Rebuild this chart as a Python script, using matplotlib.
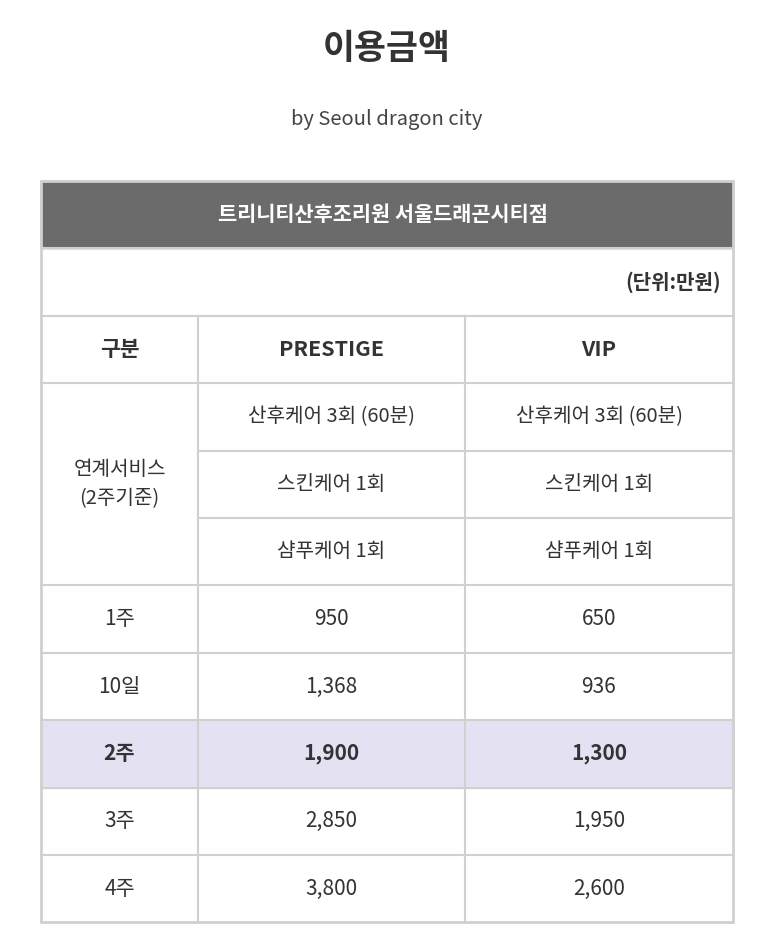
import matplotlib.pyplot as plt
from matplotlib import font_manager
from matplotlib.patches import Rectangle

# find a font with Korean glyphs
cjk = [f for f in font_manager.findSystemFonts() if 'CJK' in f or 'cjk' in f.lower()]
family = 'DejaVu Sans'
for f in sorted(cjk, key=lambda p: ('Regular' not in p, p)):
    try:
        font_manager.fontManager.addfont(f)
        family = font_manager.FontProperties(fname=f).get_name()
        break
    except Exception:
        pass
plt.rcParams['font.family'] = [family, 'Noto Sans CJK KR', 'Noto Sans CJK JP', 'DejaVu Sans']

title = "이용금액"
subtitle = "by Seoul dragon city"
header = "트리니티산후조리원 서울드래곤시티점"
unit = "(단위:만원)"
col_names = ["구분", "PRESTIGE", "VIP"]
service_label = "연계서비스\n(2주기준)"
services_prestige = ["산후케어 3회 (60분)", "스킨케어 1회", "샴푸케어 1회"]
services_vip = ["산후케어 3회 (60분)", "스킨케어 1회", "샴푸케어 1회"]
periods = ["1주", "10일", "2주", "3주", "4주"]
prestige = ["950", "1,368", "1,900", "2,850", "3,800"]
vip = ["650", "936", "1,300", "1,950", "2,600"]
highlight = "2주"

W, H = 773, 939
fig = plt.figure(figsize=(W / 100, H / 100), dpi=100)
ax = fig.add_axes([0, 0, 1, 1])
ax.set_xlim(0, W)
ax.set_ylim(H, 0)
ax.axis('off')

xs = [41, 198, 465, 733]
top = 181
rh = 67.4
line_c = '#d0d0d0'
txt_c = '#333333'

ax.text(W / 2, 48, title, ha='center', va='center', fontsize=25, fontweight='bold', color=txt_c)
ax.text(W / 2, 120, subtitle, ha='center', va='center', fontsize=14.5, color='#444444')

# header bar
ax.add_patch(Rectangle((xs[0], top), xs[3] - xs[0], rh, color='#6b6b6b'))
ax.text(W / 2 - 4, top + rh / 2, header, ha='center', va='center', fontsize=15, fontweight='bold', color='white')

# unit row
y = top + rh
ax.text(xs[3] - 12, y + rh / 2, unit, ha='right', va='center', fontsize=14.5, fontweight='bold', color=txt_c)

rows_y = [top + rh * (i + 2) for i in range(9)]

# highlighted row
hi = periods.index(highlight)
ax.add_patch(Rectangle((xs[0], rows_y[4 + hi]), xs[3] - xs[0], rh, color='#e4e1f3'))

def cy(i):
    return rows_y[i] + rh / 2

cx = [(xs[i] + xs[i + 1]) / 2 for i in range(3)]
for j, name in enumerate(col_names):
    ax.text(cx[j], cy(0), name, ha='center', va='center', fontsize=15.5, fontweight='bold', color=txt_c)

ax.text(cx[0], (rows_y[1] + rows_y[4]) / 2, service_label, ha='center', va='center',
        fontsize=14.5, color=txt_c, linespacing=1.5)
for k in range(3):
    ax.text(cx[1], cy(1 + k), services_prestige[k], ha='center', va='center', fontsize=14.5, color=txt_c)
    ax.text(cx[2], cy(1 + k), services_vip[k], ha='center', va='center', fontsize=14.5, color=txt_c)

for k, p in enumerate(periods):
    fw = 'bold' if p == highlight else 'normal'
    ax.text(cx[0], cy(4 + k), p, ha='center', va='center', fontsize=15, fontweight=fw, color=txt_c)
    ax.text(cx[1], cy(4 + k), prestige[k], ha='center', va='center', fontsize=15, fontweight=fw, color=txt_c)
    ax.text(cx[2], cy(4 + k), vip[k], ha='center', va='center', fontsize=15, fontweight=fw, color=txt_c)

# grid lines
bottom = rows_y[-1] + rh
for i, yy in enumerate([top + rh] + rows_y):
    if i in (3, 4):  # inside merged service cell, only right part
        ax.plot([xs[1], xs[3]], [yy, yy], color=line_c, lw=1.5)
    else:
        ax.plot([xs[0], xs[3]], [yy, yy], color=line_c, lw=1.5)
for x in xs[1:3]:
    ax.plot([x, x], [rows_y[0], bottom], color=line_c, lw=1.5)
ax.add_patch(Rectangle((xs[0], top), xs[3] - xs[0], bottom - top, fill=False, ec=line_c, lw=2))

fig.savefig('out.png', dpi=100)
